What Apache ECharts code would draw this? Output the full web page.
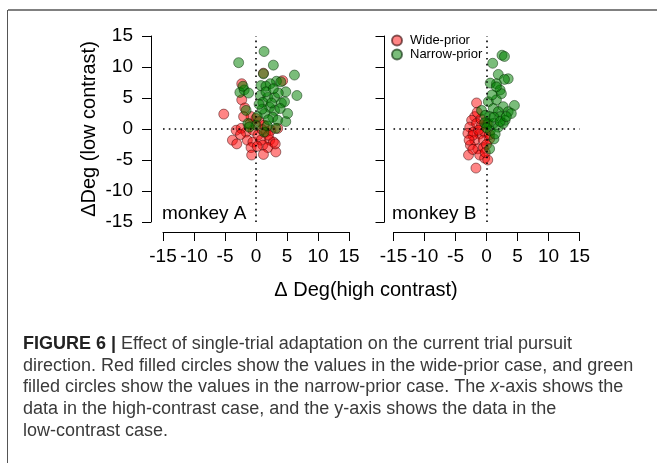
<!DOCTYPE html>
<html><head><meta charset="utf-8">
<script src="https://cdn.jsdelivr.net/npm/echarts@6/dist/echarts.min.js"></script>
<style>html,body{margin:0;padding:0;background:#fff}#c{width:657px;height:463px}</style>
</head><body><div id="c"></div>
<script>
// ---- data ----
const axisMin = -15, axisMax = 15, axisStep = 5;
const panelLabels = ['monkey A', 'monkey B'];
const seriesNames = ['Wide-prior', 'Narrow-prior'];
const xTitle = 'Δ Deg(high contrast)';
const yTitle = 'ΔDeg (low contrast)';

const monkeyA_wide = [[-5.2,2.4],[-2.3,7.3],[1.2,9.0],[4.3,7.8],[-2.3,4.7],[-1.8,3.4],[-0.8,2.0],[0.0,1.7],[0.5,1.2],[1.3,0.6],
  [-3.2,-0.2],[-2.4,0.1],[-1.6,-0.5],[-0.5,-0.2],[0.3,-1.0],[1.6,-0.5],[2.4,-0.2],[3.5,0.1],[-3.8,-1.8],[-3.1,-2.4],
  [-1.4,-1.8],[-0.5,-2.1],[0.8,-1.8],[2.2,-1.8],[2.8,-2.1],[-0.8,-3.0],[1.1,-2.6],[1.9,-3.0],[3.2,-3.7],[1.2,-4.1],
  [-0.7,-4.2],[3.1,-2.4],[-2.5,-0.9],[-1.0,0.8],[1.0,-0.1],[-2.0,2.0],[0.2,-2.8],[2.0,-1.0]];
const monkeyA_narrow = [[-2.8,10.7],[1.3,12.5],[2.8,10.3],[6.2,8.7],[1.2,8.9],[3.3,7.7],[4.0,7.6],[2.3,7.3],[0.8,7.0],[1.6,6.9],
  [4.8,6.0],[6.6,5.4],[-2.6,5.9],[-1.9,6.3],[-1.2,5.8],[-2.1,6.9],[0.7,5.4],[1.9,5.1],[3.0,5.1],[4.1,4.2],
  [4.6,4.4],[1.1,4.3],[2.2,3.5],[3.0,3.0],[-1.6,3.0],[1.4,2.5],[2.7,1.9],[3.5,1.4],[4.8,1.2],[5.1,2.5],
  [-1.3,0.9],[0.0,0.6],[1.3,-0.5],[3.2,0.1],[-1.1,0.3],[2.0,1.5],[1.0,3.2],[2.5,4.2],[3.6,5.8],[1.6,6.0],
  [0.5,4.0],[2.8,6.5],[3.9,3.3],[0.2,2.0],[1.8,0.5]];
const monkeyB_wide = [[-1.6,4.2],[-1.9,2.0],[-2.4,1.4],[-2.7,0.3],[-3.0,-0.7],[-1.6,0.9],[-0.8,0.6],[-2.1,-0.5],[-1.1,-0.8],[-0.3,-0.5],
  [-1.9,-1.8],[-0.5,-1.8],[0.5,-1.6],[-2.6,-2.6],[-1.4,-3.2],[-0.5,-3.0],[-2.9,-4.2],[-1.1,-4.2],[-0.3,-4.7],[0.2,-5.0],
  [-1.7,-6.3],[-2.2,-3.3],[0.5,-0.9],[-0.9,1.6],[-2.2,-1.0],[0.0,-2.5],[-1.3,-0.2],[0.1,0.8],[-1.5,2.7],[-2.8,-1.8],[-0.2,-3.8]];
const monkeyB_narrow = [[2.5,11.9],[2.9,11.7],[1.0,10.6],[1.9,8.8],[3.5,8.1],[2.9,8.0],[1.6,7.3],[2.2,6.3],[2.4,5.7],[0.6,7.4],
  [1.6,6.8],[0.3,4.4],[1.6,4.7],[2.7,3.6],[4.5,3.8],[3.5,2.8],[4.0,2.5],[1.1,3.3],[1.9,2.8],[2.2,2.0],
  [3.0,1.4],[0.5,2.0],[0.3,0.9],[1.1,0.9],[-0.8,3.0],[-0.2,2.2],[1.9,0.3],[2.7,0.9],[0.6,-0.3],[1.2,-1.6],
  [0.5,-3.2],[0.9,5.5],[1.2,1.9],[2.2,1.2],[-0.3,1.0],[3.2,2.0],[1.4,-0.8],[0.0,0.2]];

const captionLines = [
  '{b|FIGURE 6 |} Effect of single-trial adaptation on the current trial pursuit',
  'direction. Red filled circles show the values in the wide-prior case, and green',
  'filled circles show the values in the narrow-prior case. The {i|x}-axis shows the',
  'data in the high-contrast case, and the y-axis shows the data in the',
  'low-contrast case.'
];

// ---- chart ----
const FONT = '"Liberation Sans", Arial, sans-serif';
const redStyle = {color: 'rgba(255,0,0,0.6)', borderColor: 'rgba(50,0,0,0.75)', borderWidth: 0.8};
const greenStyle = {color: 'rgba(0,128,0,0.65)', borderColor: 'rgba(0,35,0,0.75)', borderWidth: 0.8};
const panelData = [[monkeyA_wide, monkeyA_narrow], [monkeyB_wide, monkeyB_narrow]];
const gridLefts = [163, 393.5];
const yOffsets = [12, 9];

function xAxisFor(i) {
  return {
    gridIndex: i, type: 'value', min: axisMin, max: axisMax, interval: axisStep, offset: 10,
    axisLine: {show: true, onZero: false, lineStyle: {color: '#000', width: 1}},
    axisTick: {show: true, length: 9, lineStyle: {color: '#000', width: 1}},
    axisLabel: {fontSize: 19, color: '#000', fontFamily: FONT, margin: 15},
    splitLine: {show: false}
  };
}
function yAxisFor(i) {
  return {
    gridIndex: i, type: 'value', min: axisMin, max: axisMax, interval: axisStep, offset: yOffsets[i],
    axisLine: {show: true, onZero: false, lineStyle: {color: '#000', width: 1}},
    axisTick: {show: true, length: 9, lineStyle: {color: '#000', width: 1}},
    axisLabel: {show: i === 0, fontSize: 19, color: '#000', fontFamily: FONT, margin: 18},
    splitLine: {show: false},
    name: i === 0 ? yTitle : '', nameLocation: 'middle', nameRotate: 90, nameGap: 52,
    nameTextStyle: {fontSize: 20, color: '#000', fontFamily: FONT}
  };
}

const series = [];
panelData.forEach((pd, i) => {
  series.push({
    type: 'scatter', xAxisIndex: i, yAxisIndex: i, data: [], silent: true, z: 1,
    markLine: {
      silent: true, symbol: 'none', animation: false, label: {show: false},
      lineStyle: {color: '#000', width: 1.6, type: [1.6, 4.2]},
      data: [
        [{coord: [axisMin, 0]}, {coord: [axisMax, 0]}],
        [{coord: [0, axisMin]}, {coord: [0, axisMax]}]
      ]
    }
  });
  series.push({name: seriesNames[0], type: 'scatter', xAxisIndex: i, yAxisIndex: i, z: 2,
    symbolSize: 10, data: pd[0], itemStyle: redStyle});
  series.push({name: seriesNames[1], type: 'scatter', xAxisIndex: i, yAxisIndex: i, z: 3,
    symbolSize: 10, data: pd[1], itemStyle: greenStyle});
});

const graphics = [
  {type: 'line', shape: {x1: 8, y1: 10, x2: 657, y2: 10}, style: {stroke: '#808080', lineWidth: 2}, silent: true},
  {type: 'line', shape: {x1: 7.5, y1: 10, x2: 7.5, y2: 463}, style: {stroke: '#555', lineWidth: 1}, silent: true},
  {type: 'text', left: 162, top: 204, style: {text: panelLabels[0], font: '19px ' + FONT, fill: '#000'}},
  {type: 'text', left: 392, top: 204, style: {text: panelLabels[1], font: '19px ' + FONT, fill: '#000'}},
  {type: 'text', x: 366, y: 290, style: {text: xTitle, font: '20px ' + FONT, fill: '#000', textAlign: 'center', textVerticalAlign: 'middle'}}
];
captionLines.forEach((ln, k) => {
  graphics.push({type: 'text', x: 23, y: 344 + k * 21.7, style: {
    text: ln, textVerticalAlign: 'middle', fill: '#3a3a3a', fontFamily: FONT, fontSize: 18,
    rich: {
      b: {fontWeight: 'bold', fill: '#222', fontFamily: FONT, fontSize: 18},
      i: {fontStyle: 'italic', fill: '#3a3a3a', fontFamily: FONT, fontSize: 18}
    }
  }});
});

const chart = echarts.init(document.getElementById('c'), null, {renderer: 'canvas'});
chart.setOption({
  animation: false,
  backgroundColor: '#fff',
  grid: [0, 1].map(i => ({left: gridLefts[i], top: 36, width: 186, height: 186})),
  xAxis: [xAxisFor(0), xAxisFor(1)],
  yAxis: [yAxisFor(0), yAxisFor(1)],
  legend: {
    show: true, orient: 'vertical', left: 386, top: 29, itemWidth: 10, itemHeight: 10, itemGap: 1,
    icon: 'circle', data: seriesNames,
    textStyle: {fontSize: 13, lineHeight: 13, color: '#000', fontFamily: FONT, padding: [0, 0, 0, 3]}
  },
  series: series,
  graphic: graphics
});
</script></body></html>
